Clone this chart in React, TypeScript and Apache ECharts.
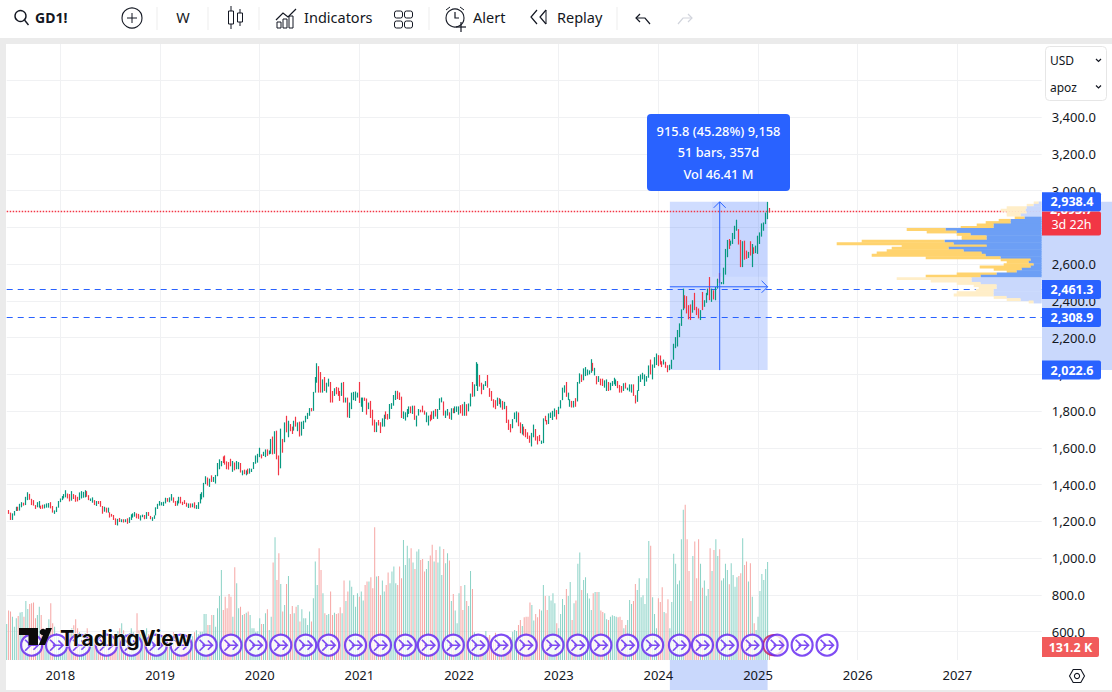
import React, { useEffect, useRef } from "react";
import * as echarts from "echarts";

// ---------- time axis ----------
const firstWeekMs = Date.UTC(2017, 5, 18);
const weekCount = 541;
const weekCategories: string[] = Array.from({ length: weekCount }, (_, k) =>
  new Date(firstWeekMs + k * 7 * 86400000).toISOString().slice(0, 10)
);
const yearTickIndexes = [28, 80, 132, 184, 236, 288, 340, 392, 444, 496];
const yearTickLabels = ["2018", "2019", "2020", "2021", "2022", "2023", "2024", "2025", "2026", "2027"];

// ---------- weekly bars, high / low / direction (g up, r down) ----------
const highs2017 = [1261,1261,1247,1243,1256,1279,1279,1295,1304,1301,1333,1358,1349,1322,1315,1288,1304,1310,1285,1290,1292,1297,1299,1304,1283,1259,1279,1310];
const lows2017 = [1243,1240,1207,1207,1231,1256,1256,1258,1276,1285,1288,1315,1317,1288,1285,1267,1276,1274,1267,1268,1270,1274,1274,1270,1247,1240,1250,1274];
const dirs2017 = "grrgggrggrggrrrrggrrgggrrggg";

const highs2018 = [1324,1337,1348,1369,1351,1348,1364,1348,1342,1333,1357,1364,1360,1369,1364,1342,1324,1330,1315,1310,1310,1310,1283,1279,1274,1274,1249,1240,1234,1216,1213,1218,1211,1211,1211,1216,1222,1238,1243,1250,1243,1240,1232,1236,1234,1250,1250,1229,1222,1232,1276,1295];
const lows2018 = [1304,1315,1324,1330,1324,1308,1312,1321,1306,1308,1315,1324,1328,1330,1333,1315,1310,1301,1288,1283,1294,1279,1241,1252,1247,1247,1220,1225,1207,1180,1177,1196,1195,1193,1195,1186,1191,1207,1220,1225,1216,1213,1204,1222,1211,1213,1229,1211,1202,1213,1232,1267];
const dirs2018 = "ggggrrgrrrggggrrggrgrrrgrgrrrrgrgrgrggggrrggrgrrgggg";

const highs2019 = [1310,1304,1306,1328,1326,1330,1348,1330,1310,1312,1333,1333,1306,1315,1301,1297,1297,1297,1303,1288,1304,1349,1358,1409,1445,1438,1432,1450,1441,1452,1517,1537,1528,1553,1558,1526,1522,1540,1528,1520,1528,1522,1517,1477,1481,1477,1486,1488,1486,1522,1558,1567];
const lows2019 = [1285,1286,1283,1297,1306,1303,1312,1301,1283,1285,1297,1297,1288,1294,1279,1272,1274,1276,1270,1267,1267,1297,1319,1330,1402,1394,1387,1414,1414,1405,1445,1483,1499,1517,1508,1483,1481,1499,1469,1477,1483,1483,1465,1450,1456,1450,1456,1459,1468,1484,1513,1519];
const dirs2019 = "gggg" + "rggrrg" + "grrrrgrgrg" + "gggggrgrgg" + "gggrrrrrgr" + "ggrgrgrggg" + "gg";

const highs2020 = [1600,1564,1578,1591,1591,1585,1648,1661,1690,1693,1558,1704,1648,1738,1774,1747,1729,1715,1747,1769,1738,1742,1742,1747,1774,1790,1816,1816,1904,1985,2060,2044,2012,1972,1985,1954,1976,1958,1909,1924,1931,1927,1909,1954,1958,1873,1873,1846,1900,1904,1906,1900];
const lows2020 = [1549,1542,1555,1549,1556,1564,1567,1564,1567,1537,1450,1488,1573,1630,1684,1657,1690,1675,1693,1715,1690,1661,1666,1702,1738,1756,1774,1798,1801,1900,1954,1900,1900,1900,1909,1900,1933,1846,1846,1882,1891,1882,1855,1882,1846,1846,1765,1762,1810,1859,1855,1873];
const dirs2020 = "grggrggrgr" + "rgrgrgrrgr" + "grgggggrgg" + "grrgrggrrg" + "rrrgrgrggg" + "gg";

const highs2021 = [1958,1873,1873,1873,1868,1846,1855,1807,1753,1739,1751,1739,1760,1780,1798,1784,1838,1843,1887,1910,1910,1901,1878,1798,1793,1811,1825,1825,1829,1829,1775,1811,1807,1829,1802,1793,1775,1780,1798,1802,1811,1811,1869,1874,1852,1802,1811,1793,1815,1815,1825,1825];
const lows2021 = [1844,1823,1795,1855,1780,1810,1762,1721,1685,1685,1721,1680,1715,1715,1757,1753,1757,1811,1829,1860,1865,1860,1762,1757,1748,1766,1784,1788,1784,1752,1716,1775,1793,1793,1780,1739,1721,1744,1752,1757,1770,1757,1806,1847,1775,1762,1775,1757,1752,1788,1788,1795];
const dirs2021 = "rggrrgrrrg" + "rrggrrgggg" + "rrrggggrgr" + "ggrrrggrrg" + "rgggrggrgr" + "gg";

const highs2022 = [1825,1832,1837,1850,1837,1841,1895,1958,1945,2066,2057,1996,1954,1945,1963,1996,1924,1909,1864,1859,1873,1870,1864,1855,1850,1828,1753,1729,1756,1792,1798,1792,1738,1729,1715,1702,1684,1666,1681,1726,1702,1663,1670,1639,1760,1774,1751,1787,1792,1801,1814,1805];
const lows2022 = [1780,1787,1774,1774,1774,1798,1825,1877,1879,1936,1909,1933,1891,1915,1936,1927,1877,1855,1819,1810,1828,1837,1819,1807,1810,1735,1697,1684,1706,1756,1738,1717,1679,1672,1666,1657,1648,1627,1607,1657,1639,1618,1636,1621,1625,1744,1726,1729,1762,1751,1769,1754];
const dirs2022 = "grrgrggrgg" + "grrggrrrrr" + "grgrgrrrgg" + "grrgrrrrgg" + "rrrggrrggg" + "gr";

const highs2023 = [1823,1859,1927,1940,1958,1900,1864,1855,1855,1870,1958,2005,1999,2032,2039,2026,2021,2082,2062,2035,1990,1990,1976,1976,1967,1972,1958,1954,1963,1981,1972,1963,1942,1936,1951,1954,1927,1945,1945,1945,1886,1913,1990,1999,2008,1999,1990,2048,2080,2053,2093,2113];
const lows2023 = [1783,1814,1859,1900,1877,1859,1823,1819,1819,1823,1852,1949,1958,1967,1990,1994,1999,2008,2017,1994,1945,1958,1940,1936,1927,1909,1909,1913,1936,1945,1936,1924,1900,1900,1909,1922,1913,1906,1900,1882,1841,1850,1909,1958,1972,1936,1960,1981,1999,1972,2035,2050];
const dirs2023 = "ggggrggrgr" + "ggrgggggrg" + "rgrrggrggg" + "grrrgrgggr" + "rgggggggrg" + "gg";

const highs2024 = [2104,2102,2071,2080,2068,2049,2052,2079,2166,2202,2241,2277,2353,2466,2430,2425,2376,2380,2403,2443,2367,2358,2349,2448,2403,2443,2466,2529,2466,2457,2475,2520,2551,2502,2580,2682,2731,2736,2727,2769,2808,2841,2790,2731,2724,2727,2673,2666,2724,2709,2691,2700,2754,2772,2821,2826,2880,2938,2905];
const lows2024 = [2044,2053,2039,2053,2035,2011,2022,2029,2079,2142,2151,2202,2263,2349,2358,2331,2299,2295,2335,2349,2322,2304,2295,2349,2367,2389,2430,2403,2394,2407,2403,2466,2497,2490,2490,2542,2637,2682,2700,2709,2736,2781,2706,2583,2583,2623,2628,2633,2646,2583,2655,2659,2655,2709,2749,2781,2817,2844,2880];
const dirs2024 = "rrrgrrgggg" + "ggggrrrrgr" + "rrgrgggrgr" + "ggrggggrgg" + "ggrrgrrgrg" + "rgggggggr";

const barHighs = [...highs2017, ...highs2018, ...highs2019, ...highs2020, ...highs2021, ...highs2022, ...highs2023, ...highs2024];
const barLows = [...lows2017, ...lows2018, ...lows2019, ...lows2020, ...lows2021, ...lows2022, ...lows2023, ...lows2024];
const barDirs = dirs2017 + dirs2018 + dirs2019 + dirs2020 + dirs2021 + dirs2022 + dirs2023 + dirs2024;

// ---------- volume, thousands of contracts ----------
const volume2017 = [364,499,489,438,337,421,445,479,485,438,596,516,566,573,580,421,455,539,455,320,303,286,411,573,371,337,270,236];
const volume2018 = [202,190,200,220,260,290,320,350,411,320,280,260,240,270,320,260,230,210,200,190,180,170,190,200,180,170,190,210,230,260,290,320,370,300,260,230,270,320,280,250,472,300,260,240,280,320,260,230,210,200,190,180];
const volume2019 = [220,240,210,260,230,200,250,280,230,210,190,220,200,180,170,190,210,240,280,300,260,286,286,465,465,354,354,455,455,337,522,647,910,505,640,522,667,640,438,937,775,522,539,455,465,478,489,455,320,320,286,290];
const volume2020 = [421,364,364,472,512,303,438,984,1240,809,1078,768,489,556,768,849,465,546,472,539,556,388,512,421,421,354,489,388,623,994,758,1129,910,674,472,455,465,691,455,478,465,472,532,472,802,596,691,802,741,657,539,674];
const volume2021 = [640,691,600,758,792,792,836,725,1341,843,849,657,802,691,758,883,775,893,944,775,758,944,826,1213,960,1153,1028,1129,984,920,1095,1119,1011,1021,893,920,1001,1055,1163,994,1112,984,1146,859,1122,977,1078,1004,596,667,499,371];
const volume2022 = [674,748,505,758,596,546,900,718,280,260,230,210,200,190,293,230,253,200,180,276,230,200,190,170,160,180,200,230,286,303,293,354,404,344,431,438,438,580,556,398,465,431,512,499,758,647,505,647,600,674,573,371];
const volume2023 = [320,465,617,556,718,647,789,404,573,600,971,1085,708,809,836,674,620,505,674,687,687,687,499,485,472,411,404,438,452,445,438,431,438,404,320,354,404,607,566,596,768,708,826,634,654,566,826,1203,1153,634,465,320];
const volume2024 = [623,586,735,485,472,613,320,586,1072,971,765,802,1220,1517,1567,1220,900,596,1051,1196,826,1220,971,731,802,647,718,1129,900,1112,1220,1051,1119,802,826,971,910,765,977,859,741,836,849,876,1230,960,994,792,977,640,371,303,438,698,869,809,920,991,131];
const barVolumes = [...volume2017, ...volume2018, ...volume2019, ...volume2020, ...volume2021, ...volume2022, ...volume2023, ...volume2024];

// ---------- contract roll markers ----------
const rollIndexes = [13,26,38,52,65,78,91,104,117,130,143,156,168,182,195,208,220,233,246,258,271,285,298,310,324,337,351,363,376,389,402,415,428];
const rollMarkerLevel = 150;
const earningsIndex = 400;

// ---------- volume profile ----------
const profilePrices = [2934,2921,2908,2894,2881,2868,2852,2839,2827,2814,2801,2789,2776,2763,2750,2738,2725,2712,2700,2687,2674,2662,2649,2636,2624,2611,2598,2585,2573,2560,2547,2535,2522,2509,2496,2484,2471,2458,2446,2433,2420,2408,2395];
const profileUp = [3,8,15,16,15,21,17,31,31,48,48,96,85,71,55,55,97,88,55,93,78,60,56,41,11,13,8,11,20,25,45,61,70,70,61,45,45,48,48,48,35,21,8];
const profileTotal = [8,15,35,41,35,35,27,43,56,65,81,135,115,85,80,80,180,205,140,150,155,165,170,116,41,35,38,62,48,35,85,116,145,111,85,68,63,66,85,88,48,35,13];
const valueAreaHigh = 2860;
const valueAreaLow = 2528;
const profileStep = 12.7;

// ---------- price levels ----------
const priceTicksHidden = [400, 3600, 3800];
const dashedLevels = [2461.3, 2308.9];
const currentPrice = 2891;
const measureHigh = 2938.4;
const measureLow = 2022.6;
const measureStartIndex = 346;
const measureEndIndex = 397;
const measureCrossIndex = 372;
const measureCrossPrice = 2476;
const measureInnerIndex = 368;
const measureInnerLow = 2530;
const blueTags = [
  { price: 2938.4, label: "2,938.4" },
  { price: 2461.3, label: "2,461.3" },
  { price: 2308.9, label: "2,308.9" },
  { price: 2022.6, label: "2,022.6" },
];
const currentPriceLabel = "2,893.7";
const countdownLabel = "3d 22h";
const lastVolumeLabel = "131.2 K";
const tooltipLines = ["915.8 (45.28%) 9,158", "51 bars, 357d", "Vol 46.41 M"];

const UP = "#089981";
const DOWN = "#F23645";
const BLUE = "#2962FF";
const INK = "#131722";
const AXIS_FONT = "Noto Sans";
const PAPER_BAND = "#C9D8FC";
const GRID = "#F0F1F3";
const ROLL = "#5F1FF0";

const seg = (x1: number, y1: number, x2: number, y2: number, color = INK, w = 1, z = 30) => ({
  type: "line", z, shape: { x1, y1, x2, y2 }, style: { stroke: color, lineWidth: w },
});
const poly = (points: number[][], color = INK, w = 1.2, z = 30) => ({
  type: "polyline", z, shape: { points }, style: { stroke: color, lineWidth: w, fill: "none" },
});
const box = (x: number, y: number, width: number, height: number, fill: string, stroke?: string, r = 0, z = 30) => ({
  type: "rect", z, shape: { x, y, width, height, r },
  style: { fill, stroke: stroke || undefined, lineWidth: stroke ? 1 : 0 },
});
const ring = (cx: number, cy: number, r: number, color = INK, w = 1.1, z = 30) => ({
  type: "circle", z, shape: { cx, cy, r }, style: { stroke: color, lineWidth: w, fill: "none" },
});
const label = (x: number, y: number, text: string, font: string, fill = INK, align = "left", z = 30, extra = {}) => ({
  type: "text", z, x, y,
  style: { text, font, fill, align, verticalAlign: "middle", ...extra },
});

function chromeElements(): any[] {
  const font = `14.5px ${AXIS_FONT}`;
  const tipFont = `500 12.8px ${AXIS_FONT}`;
  const els: any[] = [
    // frame
    box(0, 0, 1112, 38, "#FFFFFF", undefined, 0, 1),
    box(0, 38, 1112, 6, "#EBEBEB", undefined, 0, 1),
    box(0, 38, 6, 654, "#EBEBEB", undefined, 0, 1),
    box(0, 690, 1112, 2, "#EBEBEB", undefined, 0, 1),
    // search + symbol
    ring(20.5, 16, 5.5, INK, 1.4),
    seg(24.5, 20, 28.5, 25, INK, 1.4),
    label(35, 17, "GD1!", `bold 14px ${AXIS_FONT}`),
    // plus
    ring(132, 18, 10),
    seg(127, 18, 137, 18),
    seg(132, 13, 132, 23),
    // separators
    ...[157, 208, 259, 429, 617].map((x) => seg(x, 7, x, 30, "#EDEDED")),
    label(183, 17, "W", font, INK, "center"),
    // candle icon
    box(228.5, 11, 5, 13, "none", INK),
    seg(231, 6, 231, 11), seg(231, 24, 231, 29),
    box(237.5, 13, 5, 9, "none", INK),
    seg(240, 9, 240, 13), seg(240, 22, 240, 26),
    // indicators
    poly([[276, 20], [283, 13], [288, 17], [296, 9]]),
    box(277, 22, 4, 6, "none", INK), box(283, 19, 4, 9, "none", INK), box(289, 16, 4, 12, "none", INK),
    label(304, 17, "Indicators", font),
    // layouts
    box(394.5, 11, 8, 7, "none", INK, 2), box(404.5, 11, 8, 7, "none", INK, 2),
    box(394.5, 21, 8, 7, "none", INK, 2), box(404.5, 21, 8, 7, "none", INK, 2),
    // alert
    ring(455, 18, 9),
    poly([[455, 12], [455, 18], [459, 18]]),
    seg(446, 10, 450, 7), seg(460, 7, 464, 10),
    seg(456, 27, 466, 27, INK, 1.2), seg(461, 22, 461, 32, INK, 1.2),
    label(473, 17, "Alert", font),
    // replay
    poly([[537, 10], [531, 17], [537, 24]]),
    poly([[546, 10], [540, 17], [546, 24]]),
    seg(546, 10, 546, 24),
    label(557, 17, "Replay", font),
    // undo / redo
    poly([[640, 14], [636, 18], [640, 22]]), poly([[636, 18], [645, 18], [650, 24]]),
    poly([[688, 14], [692, 18], [688, 22]], "#D1D4DC"), poly([[692, 18], [683, 18], [678, 24]], "#D1D4DC"),
    // currency / unit box
    box(1045.5, 46.5, 61, 54, "#FFFFFF", "#E6E6E6", 4, 30),
    label(1050, 60, "USD", `12px ${AXIS_FONT}`),
    label(1050, 87, "apoz", `12px ${AXIS_FONT}`),
    poly([[1096, 59], [1098.5, 61.5], [1101, 59]]),
    poly([[1096, 85.5], [1098.5, 88], [1101, 85.5]]),
    // settings hexagon
    { type: "polygon", z: 30, shape: { points: [[1069.5, 676], [1073.2, 669.5], [1080.8, 669.5], [1084.5, 676], [1080.8, 682.5], [1073.2, 682.5]] }, style: { fill: "none", stroke: INK, lineWidth: 1.1 } },
    ring(1077, 676, 2.6),
    // measuring tooltip
    box(647, 114, 143, 77, BLUE, undefined, 4, 30),
    label(718.5, 131, tooltipLines[0], tipFont, "#FFFFFF", "center"),
    label(718.5, 152, tooltipLines[1], tipFont, "#FFFFFF", "center"),
    label(718.5, 174, tooltipLines[2], tipFont, "#FFFFFF", "center"),
    // watermark
    { type: "polygon", z: 40, shape: { points: [[19, 628], [38, 628], [38, 645], [28.5, 645], [28.5, 635], [19, 635]] }, style: { fill: "#0B0B0B" } },
    { type: "circle", z: 40, shape: { cx: 43, cy: 632, r: 3.3 }, style: { fill: "#0B0B0B" } },
    { type: "polygon", z: 40, shape: { points: [[46, 628], [52, 628], [45, 645], [38.7, 645]] }, style: { fill: "#0B0B0B" } },
    label(60, 638, "TradingView", `700 21.3px Inter`, "#0B0B0B", "left", 40, { stroke: "#FFFFFF", lineWidth: 1 }),
  ];
  return els;
}

const option = (): any => ({
  animation: false,
  backgroundColor: "#FFFFFF",
  graphic: { elements: chromeElements() },
  grid: [
    { left: 6.7, width: 1035, top: 43.5, height: 624.75 },
    { left: 6.7, width: 1035, top: 44, height: 616 },
    { left: 6.7, width: 1035, top: 43.5, height: 624.75 },
  ],
  xAxis: [
    { type: "category", gridIndex: 0, data: weekCategories, boundaryGap: false, show: false },
    {
      type: "category",
      gridIndex: 1,
      data: weekCategories,
      boundaryGap: false,
      axisLine: { show: false },
      axisTick: { show: false },
      axisLabel: {
        interval: (i: number) => yearTickIndexes.includes(i),
        formatter: (_: string, i: number) => yearTickLabels[yearTickIndexes.indexOf(i)] ?? "",
        margin: 8,
        color: INK,
        fontFamily: AXIS_FONT,
        fontSize: 13,
      },
      splitLine: {
        show: true,
        interval: (i: number) => yearTickIndexes.includes(i),
        lineStyle: { color: GRID, width: 1 },
      },
    },
    { type: "value", gridIndex: 2, min: 0, max: 1035, inverse: true, show: false },
  ],
  yAxis: [
    {
      type: "value",
      gridIndex: 0,
      position: "right",
      min: 400,
      max: 3800,
      interval: 200,
      axisLine: { show: false },
      axisTick: { show: false },
      axisLabel: {
        margin: 10,
        color: INK,
        fontFamily: AXIS_FONT,
        fontSize: 13,
        showMinLabel: false,
        showMaxLabel: false,
        formatter: (v: number) =>
          priceTicksHidden.includes(v) ? "" : v.toLocaleString("en-US", { minimumFractionDigits: 1 }),
      },
      splitLine: { show: true, showMinLine: false, showMaxLine: false, lineStyle: { color: GRID, width: 1 } },
    },
    { type: "value", gridIndex: 1, min: 0, max: 6222, show: false },
    { type: "value", gridIndex: 2, min: 400, max: 3800, show: false },
  ],
  series: [
    // pale bands on the scales
    {
      type: "custom",
      xAxisIndex: 0,
      yAxisIndex: 0,
      z: -1,
      silent: true,
      data: [[measureStartIndex, measureHigh]],
      renderItem: (_: any, api: any) => {
        const left = api.coord([measureStartIndex, measureHigh]);
        const right = api.coord([measureEndIndex, measureLow]);
        return {
          type: "group",
          children: [
            { type: "rect", shape: { x: 1042, y: left[1], width: 70, height: right[1] - left[1] }, style: { fill: PAPER_BAND } },
            { type: "rect", shape: { x: left[0], y: 660, width: right[0] - left[0], height: 30 }, style: { fill: PAPER_BAND } },
          ],
        };
      },
    },
    // measuring box
    {
      type: "custom",
      xAxisIndex: 0,
      yAxisIndex: 0,
      z: 1,
      silent: true,
      data: [[measureStartIndex, measureHigh]],
      renderItem: (_: any, api: any) => {
        const a = api.coord([measureStartIndex, measureHigh]);
        const b = api.coord([measureEndIndex, measureLow]);
        const inner = api.coord([measureInnerIndex, measureInnerLow]);
        return {
          type: "group",
          children: [
            { type: "rect", shape: { x: a[0], y: a[1], width: b[0] - a[0], height: b[1] - a[1] }, style: { fill: "rgba(41,98,255,0.22)" } },
            { type: "rect", shape: { x: inner[0], y: a[1], width: b[0] - inner[0], height: inner[1] - a[1] }, style: { fill: "rgba(41,98,255,0.05)" } },
          ],
        };
      },
    },
    // volume
    {
      type: "bar",
      xAxisIndex: 1,
      yAxisIndex: 1,
      barWidth: 1,
      silent: true,
      z: 2,
      data: barVolumes.map((v, i) => ({
        value: v,
        itemStyle: { color: barDirs[i] === "g" ? "#8AD2C6" : "#F6A5A3" },
      })),
    },
    // price candles
    {
      type: "candlestick",
      xAxisIndex: 0,
      yAxisIndex: 0,
      barWidth: 0.1,
      silent: true,
      z: 3,
      itemStyle: { color: UP, color0: DOWN, borderColor: UP, borderColor0: DOWN, borderWidth: 1.2 },
      data: barHighs.map((h, i) =>
        barDirs[i] === "g" ? [barLows[i], h, barLows[i], h] : [h, barLows[i], barLows[i], h]
      ),
    },
    // horizontal levels
    {
      type: "custom",
      xAxisIndex: 0,
      yAxisIndex: 0,
      z: 3,
      silent: true,
      data: [...dashedLevels, currentPrice].map((v) => [0, v]),
      renderItem: (_: any, api: any) => {
        const level = api.value(1);
        const p = api.coord([0, level]);
        const end = api.coord([weekCount - 1, level]);
        const y = Math.round(p[1]) + 0.5;
        const isCurrent = level === currentPrice;
        return {
          type: "line",
          shape: { x1: p[0], y1: y, x2: end[0], y2: y },
          style: {
            stroke: isCurrent ? DOWN : BLUE,
            fill: "none",
            lineWidth: isCurrent ? 1.3 : 1.2,
            lineDash: isCurrent ? [1.5, 1.5] : [6, 5],
          },
        };
      },
    },
    // measuring cross with arrows
    {
      type: "custom",
      xAxisIndex: 0,
      yAxisIndex: 0,
      z: 4,
      silent: true,
      data: [[measureCrossIndex, measureCrossPrice]],
      renderItem: (_: any, api: any) => {
        const top = api.coord([measureCrossIndex, measureHigh]);
        const bottom = api.coord([measureCrossIndex, measureLow]);
        const l = api.coord([measureStartIndex, measureCrossPrice]);
        const r = api.coord([measureEndIndex, measureCrossPrice]);
        const style = { stroke: BLUE, lineWidth: 1, fill: "none" };
        return {
          type: "group",
          children: [
            { type: "line", shape: { x1: top[0], y1: top[1], x2: bottom[0], y2: bottom[1] }, style },
            { type: "line", shape: { x1: l[0], y1: l[1], x2: r[0], y2: r[1] }, style },
            { type: "polyline", shape: { points: [[top[0] - 6, top[1] + 6], [top[0], top[1]], [top[0] + 6, top[1] + 6]] }, style },
            { type: "polyline", shape: { points: [[r[0] - 6, r[1] - 6], [r[0], r[1]], [r[0] - 6, r[1] + 6]] }, style },
          ],
        };
      },
    },
    // volume profile
    {
      type: "custom",
      xAxisIndex: 2,
      yAxisIndex: 2,
      z: 4,
      silent: true,
      clip: false,
      encode: { x: 2, y: 0 },
      data: profilePrices.map((p, i) => [p, profileUp[i], profileTotal[i]]),
      renderItem: (_: any, api: any) => {
        const p = api.value(0);
        const up = api.value(1);
        const total = api.value(2);
        const topY = api.coord([0, p + profileStep / 2])[1];
        const h = api.size([0, profileStep])[1] + 0.6;
        const x0 = api.coord([0, p])[0];
        const xUp = api.coord([up, p])[0];
        const xTotal = api.coord([total, p])[0];
        const inside = p <= valueAreaHigh && p >= valueAreaLow;
        return {
          type: "group",
          children: [
            { type: "rect", shape: { x: xTotal, y: topY, width: xUp - xTotal, height: h }, style: { fill: inside ? "#FFD36E" : "#FFEEC8" } },
            { type: "rect", shape: { x: xUp, y: topY, width: x0 - xUp, height: h }, style: { fill: inside ? "#6D9FF5" : "#C9D8FC" } },
          ],
        };
      },
    },
    // roll markers
    {
      type: "scatter",
      xAxisIndex: 1,
      yAxisIndex: 1,
      z: 5,
      silent: true,
      symbol: "circle",
      symbolSize: 20,
      itemStyle: { color: "#FFFFFF", borderColor: "#C2185B", borderWidth: 2 },
      data: [[earningsIndex, rollMarkerLevel]],
    },
    {
      type: "scatter",
      xAxisIndex: 1,
      yAxisIndex: 1,
      z: 6,
      silent: true,
      symbol: "circle",
      symbolSize: 21,
      itemStyle: { color: "#FFFFFF", borderColor: ROLL, borderWidth: 2.2 },
      data: rollIndexes.map((i) => [i, rollMarkerLevel]),
    },
    {
      type: "scatter",
      xAxisIndex: 1,
      yAxisIndex: 1,
      z: 7,
      silent: true,
      symbol: "path://M0 0L6 6L0 12M3 6H14M9 1L14 6L9 11",
      symbolSize: [13, 11],
      itemStyle: { color: "none", borderColor: ROLL, borderWidth: 1.6 },
      data: rollIndexes.map((i) => [i, rollMarkerLevel]),
    },
    // price tags
    {
      type: "custom",
      xAxisIndex: 0,
      yAxisIndex: 0,
      z: 8,
      silent: true,
      data: [[measureEndIndex, currentPrice], ...blueTags.map((t) => [measureEndIndex, t.price])],
      renderItem: (params: any, api: any) => {
        const y = api.coord([measureEndIndex, api.value(1)])[1];
        if (params.dataIndex === 0) {
          return {
            type: "group",
            children: [
              { type: "rect", shape: { x: 1042, y: y + 1, width: 59, height: 24, r: [0, 2, 2, 0] }, style: { fill: "#F23645" } },
              { type: "text", style: { x: 1071.5, y: y - 1, text: currentPriceLabel, fill: "#FFFFFF", font: `bold 12.5px ${AXIS_FONT}`, align: "center", verticalAlign: "middle" } },
              { type: "text", style: { x: 1071.5, y: y + 14, text: countdownLabel, fill: "#FFFFFF", font: `12.5px ${AXIS_FONT}`, align: "center", verticalAlign: "middle" } },
            ],
          };
        }
        const tag = blueTags[params.dataIndex - 1];
        return {
          type: "group",
          children: [
            { type: "rect", shape: { x: 1042, y: y - 9.5, width: 59, height: 19, r: [0, 2, 2, 0] }, style: { fill: BLUE } },
            { type: "text", style: { x: 1072, y, text: tag.label, fill: "#FFFFFF", font: `bold 12.5px ${AXIS_FONT}`, align: "center", verticalAlign: "middle" } },
          ],
        };
      },
    },
    // last volume tag
    {
      type: "custom",
      xAxisIndex: 1,
      yAxisIndex: 1,
      z: 8,
      silent: true,
      data: [[398, barVolumes[398]]],
      renderItem: (_: any, api: any) => {
        const y = api.coord([398, barVolumes[398]])[1];
        return {
          type: "group",
          children: [
            { type: "rect", shape: { x: 1042, y: y - 10, width: 57, height: 20, r: [0, 2, 2, 0] }, style: { fill: "#F15B5B" } },
            { type: "text", style: { x: 1070.5, y, text: lastVolumeLabel, fill: "#FFFFFF", font: `bold 12.5px ${AXIS_FONT}`, align: "center", verticalAlign: "middle" } },
          ],
        };
      },
    },
  ],
});

export default function App() {
  const ref = useRef<HTMLDivElement>(null);
  useEffect(() => {
    document.body.style.margin = "0";
    const chart = echarts.init(ref.current!, undefined, { renderer: "svg" });
    chart.setOption(option());
    return () => chart.dispose();
  }, []);
  return <div ref={ref} style={{ width: 1112, height: 692, overflow: "hidden" }} />;
}
